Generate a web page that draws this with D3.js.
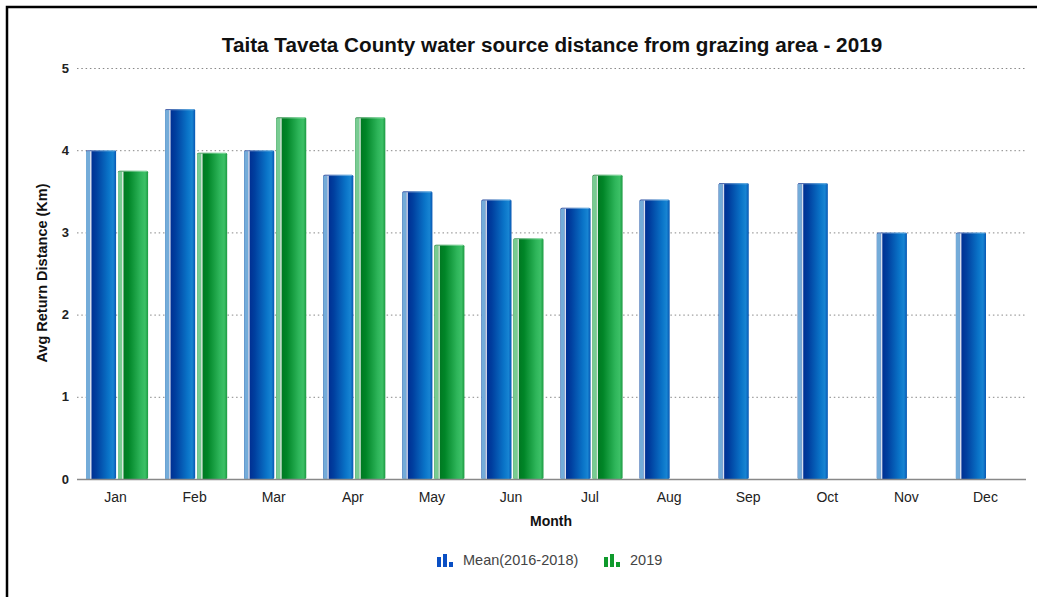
<!DOCTYPE html>
<html>
<head>
<meta charset="utf-8">
<script src="https://cdnjs.cloudflare.com/ajax/libs/d3/7.8.5/d3.min.js"></script>
<style>
  body { margin: 0; background: #fff; }
  svg { display: block; font-family: "Liberation Sans", Arial, Helvetica, sans-serif; }
</style>
</head>
<body>
<svg id="chart" width="1037" height="597"></svg>
<script>
// chart data
const months = ["Jan", "Feb", "Mar", "Apr", "May", "Jun", "Jul", "Aug", "Sep", "Oct", "Nov", "Dec"];
const seriesNames = ["Mean(2016-2018)", "2019"];
const meanValues = [4.0, 4.5, 4.0, 3.7, 3.5, 3.4, 3.3, 3.4, 3.6, 3.6, 3.0, 3.0];
const values2019 = [3.75, 3.97, 4.4, 4.4, 2.85, 2.93, 3.7, null, null, null, null, null];
const yTicks = [0, 1, 2, 3, 4, 5];

const svg = d3.select("#chart");
const width = 1037, height = 597;
const plot = { left: 77, right: 1026, top: 68, bottom: 479 };

// frame (left + top edges only, like the cropped screenshot)
svg.append("path")
  .attr("d", `M7,${height} V7 H${width}`)
  .attr("fill", "none")
  .attr("stroke", "#000")
  .attr("stroke-width", 2.5);

// gradients for the bars
const defs = svg.append("defs");
const gradients = [
  { id: "grad-mean", stops: [
    { offset: "0%", color: "#001f86" }, { offset: "35%", color: "#003f9f" },
    { offset: "75%", color: "#0a74c8" }, { offset: "90%", color: "#1784d2" },
    { offset: "100%", color: "#0756b2" }] },
  { id: "grad-2019", stops: [
    { offset: "0%", color: "#006c1c" }, { offset: "35%", color: "#008527" },
    { offset: "75%", color: "#2eb55a" }, { offset: "90%", color: "#3cc066" },
    { offset: "100%", color: "#1c9a42" }] }
];
gradients.forEach(g => {
  defs.append("linearGradient")
    .attr("id", g.id)
    .attr("x1", "0%").attr("x2", "100%").attr("y1", "0%").attr("y2", "0%")
    .selectAll("stop")
    .data(g.stops)
    .enter().append("stop")
    .attr("offset", d => d.offset)
    .attr("stop-color", d => d.color);
});
const edgeColors = ["#74acd9", "#78cc92"];
const iconColors = ["#0a4fc4", "#0f9a2c"];

// scales
const x0 = d3.scaleBand().domain(months).range([plot.left, plot.right]);
const x1 = d3.scaleBand().domain(seriesNames).range([9, x0.bandwidth() - 8]).paddingInner(0.06);
const y = d3.scaleLinear().domain([0, 5]).range([plot.bottom, plot.top]);

// grid lines
svg.append("g")
  .selectAll("line")
  .data(yTicks.filter(t => t > 0))
  .enter().append("line")
  .attr("x1", plot.left).attr("x2", plot.right)
  .attr("y1", d => y(d) + 0.5).attr("y2", d => y(d) + 0.5)
  .attr("stroke", "#888")
  .attr("stroke-width", 1)
  .attr("stroke-dasharray", "1.5,2.8");

// y tick labels
svg.append("g")
  .selectAll("text")
  .data(yTicks)
  .enter().append("text")
  .attr("x", 69)
  .attr("y", d => y(d) + 4.5)
  .attr("text-anchor", "end")
  .attr("font-size", 13)
  .attr("font-weight", "bold")
  .attr("fill", "#222")
  .text(d => d);

// bars
const seriesData = [meanValues, values2019];
const groups = svg.append("g")
  .selectAll("g")
  .data(months)
  .enter().append("g")
  .attr("transform", d => `translate(${x0(d)},0)`);

seriesNames.forEach((name, si) => {
  const bars = groups.filter((m, i) => seriesData[si][i] != null)
    .append("g")
    .datum((m) => seriesData[si][months.indexOf(m)]);
  const bx = x1(name), bw = x1.bandwidth();
  bars.append("rect")
    .attr("x", bx)
    .attr("y", d => y(d))
    .attr("width", bw)
    .attr("height", d => plot.bottom - y(d))
    .attr("rx", 1.5)
    .attr("fill", `url(#${gradients[si].id})`);
  // light left side strip
  bars.append("rect")
    .attr("x", bx)
    .attr("y", d => y(d) + 1)
    .attr("width", 4)
    .attr("height", d => plot.bottom - y(d) - 1)
    .attr("fill", edgeColors[si]);
  bars.append("rect")
    .attr("x", bx + 4)
    .attr("y", d => y(d) + 1)
    .attr("width", 1.5)
    .attr("height", d => plot.bottom - y(d) - 1)
    .attr("fill", "#fff")
    .attr("opacity", 0.85);
  // soft top highlight
  bars.append("rect")
    .attr("x", bx + 1)
    .attr("y", d => y(d))
    .attr("width", bw - 2)
    .attr("height", 1.2)
    .attr("fill", "#fff")
    .attr("opacity", 0.35);
});

// x axis line
svg.append("line")
  .attr("x1", plot.left).attr("x2", plot.right)
  .attr("y1", plot.bottom + 0.5).attr("y2", plot.bottom + 0.5)
  .attr("stroke", "#888")
  .attr("stroke-width", 1.3);

// x tick labels
svg.append("g")
  .selectAll("text")
  .data(months)
  .enter().append("text")
  .attr("x", d => x0(d) + x0.bandwidth() / 2 - 1)
  .attr("y", 502)
  .attr("text-anchor", "middle")
  .attr("font-size", 14)
  .attr("fill", "#222")
  .text(d => d);

// title
svg.append("text")
  .attr("x", 552)
  .attr("y", 52)
  .attr("text-anchor", "middle")
  .attr("font-size", 20.7)
  .attr("font-weight", "bold")
  .attr("fill", "#111")
  .text("Taita Taveta County water source distance from grazing area - 2019");

// axis titles
svg.append("text")
  .attr("x", 551)
  .attr("y", 526)
  .attr("text-anchor", "middle")
  .attr("font-size", 14)
  .attr("font-weight", "bold")
  .attr("fill", "#111")
  .text("Month");

svg.append("text")
  .attr("transform", `translate(47,273) rotate(-90)`)
  .attr("text-anchor", "middle")
  .attr("font-size", 14.5)
  .attr("font-weight", "bold")
  .attr("fill", "#111")
  .text("Avg Return Distance (Km)");

// legend
const legendItems = [
  { name: seriesNames[0], x: 437 },
  { name: seriesNames[1], x: 604 }
];
const iconBars = [{ dx: 0, h: 10 }, { dx: 6, h: 13 }, { dx: 12, h: 5 }];
const legend = svg.append("g")
  .selectAll("g")
  .data(legendItems)
  .enter().append("g")
  .attr("transform", d => `translate(${d.x},567)`);
legend.each(function(d, i) {
  d3.select(this).selectAll("rect")
    .data(iconBars)
    .enter().append("rect")
    .attr("x", b => b.dx)
    .attr("y", b => -b.h)
    .attr("width", 4)
    .attr("height", b => b.h)
    .attr("fill", iconColors[i]);
});
legend.append("text")
  .attr("x", 26)
  .attr("y", -2)
  .attr("font-size", 14.5)
  .attr("fill", "#444")
  .text(d => d.name);
</script>
</body>
</html>
